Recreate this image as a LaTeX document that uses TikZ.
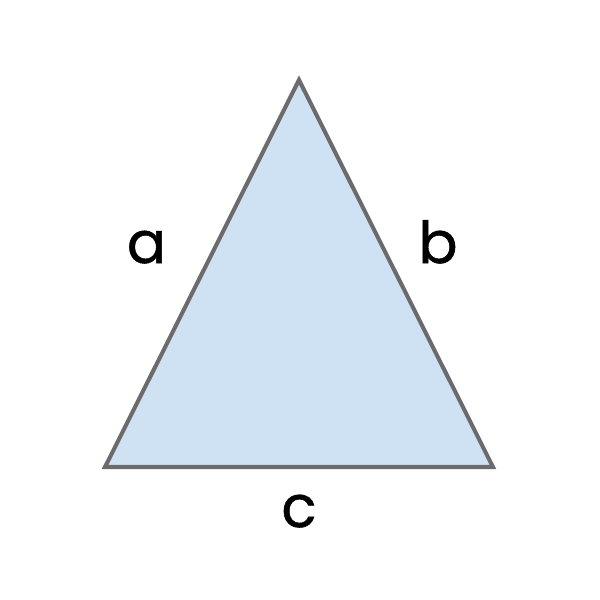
\documentclass[tikz,border=0pt]{standalone}
\usepackage{fontspec}
\setmainfont{Poppins}
\newfontfamily\lblfont[FakeBold=0.9]{Poppins}
\definecolor{trifill}{HTML}{CFE2F3}
\definecolor{tridraw}{HTML}{6B6B6D}
\begin{document}
\begin{tikzpicture}[x=0.02cm,y=-0.02cm,
  lbl/.style={anchor=base,inner sep=0pt,font=\lblfont\fontsize{33}{36}\selectfont}]
\useasboundingbox (0,0) rectangle (600,600);
\coordinate (A) at (299,80);
\coordinate (B) at (105,467);
\coordinate (C) at (493,467);
\draw[fill=trifill,draw=tridraw,line width=2.3pt,line join=miter] (A) -- (B) -- (C) -- cycle;
\node[lbl] (la) at (146.5,263) {a};
\node[lbl] (lb) at (438,263) {b};
\node[lbl] (lc) at (299,527) {c};
\end{tikzpicture}
\end{document}
